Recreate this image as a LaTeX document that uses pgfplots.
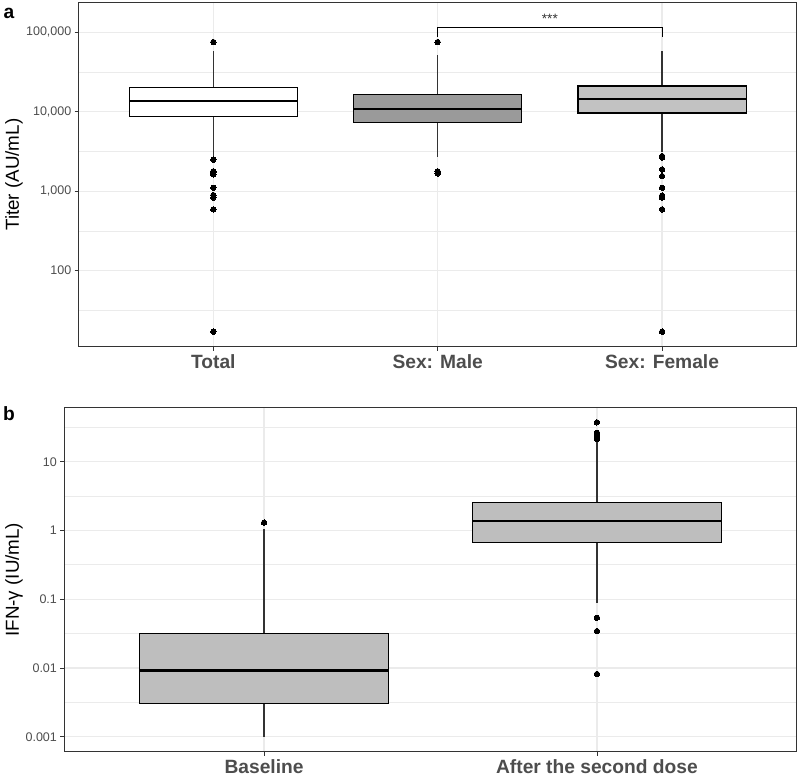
\documentclass[border=0pt]{standalone}
\usepackage{pgfplots}
\pgfplotsset{compat=1.18}
\usepgfplotslibrary{statistics}
\usepackage{fontspec}
\setmainfont{Liberation Sans}
\definecolor{gridc}{HTML}{EBEBEB}
\definecolor{tickc}{HTML}{4D4D4D}
\definecolor{framec}{HTML}{333333}
\definecolor{malefill}{HTML}{9A9A9A}
\definecolor{femfill}{HTML}{C2C2C2}
\definecolor{bfill}{HTML}{BEBEBE}
\pgfplotsset{
  bx/.style={draw=black, line width=0.6pt, mark=*, mark size=1.35pt,
    mark options={fill=black, draw=black, line width=0pt},
    boxplot/draw direction=y,
    boxplot/box extend=0.75,
    boxplot/whisker extend=0,
    boxplot/every median/.style={line width=1.25pt},
    boxplot/every whisker/.style={line width=0.62pt, draw=framec}},
}
\begin{document}
\begin{tikzpicture}
\path[use as bounding box] (0,0) rectangle (400pt,-389pt);
\node[anchor=base west, inner sep=0, font=\fontsize{9.6}{11}\selectfont\bfseries] at (1.65pt,-9.15pt) {a};
\node[anchor=base west, inner sep=0, font=\fontsize{9.6}{11}\selectfont\bfseries] at (1.35pt,-210pt) {b};
\begin{axis}[
  scale only axis, ymode=log,
  axis line style={framec, line width=0.5pt},
  tick pos=left, tick align=outside, major tick length=2pt, minor tick length=0pt,
  tick style={framec, line width=0.45pt},
  xmajorgrids, ymajorgrids, yminorgrids,
  major grid style={gridc, line width=0.6pt},
  minor grid style={gridc, line width=0.35pt},
  yticklabel style={font=\fontsize{6.25}{7}\selectfont, color=tickc, inner sep=1.5pt},
  xticklabel style={font=\fontsize{9.6}{11}\selectfont\bfseries, color=tickc, inner sep=1.5pt},
  ylabel style={font=\fontsize{9.4}{11}\selectfont, anchor=center, at={(axis description cs:-0.0901,0.5)}},
  at={(39.35pt,-173.35pt)}, anchor=south west,
  width=359pt, height=172pt,
  xmin=0.4, xmax=3.6, ymin=11, ymax=236000,
  xtick={1,2,3}, xticklabels={Total, Sex: Male, Sex: Female},
  ytick={100,1000,10000,100000}, yticklabels={100,{1,000},{10,000},{100,000}},
  minor ytick={31.62,316.2,3162,31620},
  ylabel={Titer (AU/mL)},
]
\addplot[bx, boxplot prepared={median=13640, upper quartile=20050, lower quartile=8750,
  upper whisker=58600, lower whisker=2720, draw position=1,
  every box/.style={draw=black, fill=white}}]
  table[row sep=\\, header=false, y index=0] {75500\\ 2490\\ 1780\\ 1700\\ 1630\\ 1105\\ 893\\ 830\\ 590\\ 17\\};
\addplot[bx, boxplot prepared={median=10900, upper quartile=16370, lower quartile=7350,
  upper whisker=51300, lower whisker=2660, draw position=2,
  every box/.style={draw=black, fill=malefill}}]
  table[row sep=\\, header=false, y index=0] {75500\\ 1780\\ 1670\\};
\addplot[bx, boxplot prepared={median=14450, upper quartile=21080, lower quartile=9630,
  upper whisker=58600, lower whisker=3100, draw position=3,
  every box/.style={draw=black, fill=femfill}}]
  table[row sep=\\, header=false, y index=0] {2770\\ 2720\\ 2660\\ 1880\\ 1550\\ 1105\\ 880\\ 830\\ 590\\ 17\\};
\addplot[black, line width=0.55pt, mark=none] coordinates {(2,88000) (2,115600) (3,115600) (3,88000)};
\node[anchor=base, inner sep=0, color=framec, font=\fontsize{6.8}{7}\selectfont] at (axis cs:2.5,129000) {***};
\end{axis}
\begin{axis}[
  scale only axis, ymode=log,
  axis line style={framec, line width=0.5pt},
  tick pos=left, tick align=outside, major tick length=2pt, minor tick length=0pt,
  tick style={framec, line width=0.45pt},
  xmajorgrids, ymajorgrids, yminorgrids,
  major grid style={gridc, line width=0.6pt},
  minor grid style={gridc, line width=0.35pt},
  yticklabel style={font=\fontsize{6.25}{7}\selectfont, color=tickc, inner sep=1.5pt},
  xticklabel style={font=\fontsize{9.6}{11}\selectfont\bfseries, color=tickc, inner sep=1.5pt},
  ylabel style={font=\fontsize{9.4}{11}\selectfont, anchor=center, at={(axis description cs:-0.0687,0.5)}},
  at={(32.15pt,-375.85pt)}, anchor=south west,
  width=366.2pt, height=172pt,
  xmin=0.4, xmax=2.6, ymin=0.000605, ymax=61,
  xtick={1,2}, xticklabels={Baseline, After the second dose},
  ytick={0.001,0.01,0.1,1,10}, yticklabels={0.001,0.01,0.1,1,10},
  minor ytick={0.003162,0.03162,0.3162,3.162,31.62},
  ylabel={IFN-γ (IU/mL)},
]
\addplot[bx, boxplot prepared={median=0.00912, upper quartile=0.0319, lower quartile=0.00306,
  upper whisker=1.04, lower whisker=0.001, draw position=1,
  every box/.style={draw=black, fill=bfill}}]
  table[row sep=\\, header=false, y index=0] {1.30\\};
\addplot[bx, boxplot prepared={median=1.37, upper quartile=2.57, lower quartile=0.664,
  upper whisker=19.4, lower whisker=0.087, draw position=2,
  every box/.style={draw=black, fill=bfill}}]
  table[row sep=\\, header=false, y index=0] {37.4\\ 26.4\\ 25\\ 23.5\\ 22.5\\ 21.4\\ 0.0538\\ 0.0344\\ 0.00818\\};
\end{axis}
\end{tikzpicture}
\end{document}
